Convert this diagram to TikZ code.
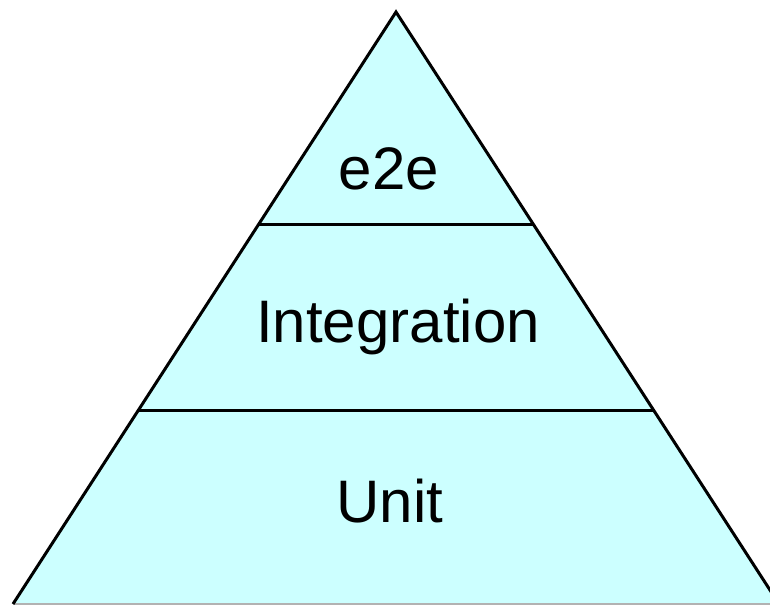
\documentclass[tikz,border=0pt]{standalone}
\usepackage{fontspec}
\setmainfont{Liberation Sans}
\usetikzlibrary{calc}
\definecolor{pyrfill}{RGB}{204,255,255}
\begin{document}
\begin{tikzpicture}[x=1pt,y=1pt,
  edge/.style={draw=black,line width=3pt,line join=miter},
  lbl/.style={font=\fontsize{60}{62}\selectfont,text=black,inner sep=0pt,anchor=base}]
\useasboundingbox (0,0) rectangle (770,605);
\clip (0,0) rectangle (770,605);
\coordinate (apex) at (396,593);
\coordinate (bl) at (13,1);
\coordinate (br) at (779,1);
\fill[pyrfill] (apex) -- (bl) -- (br) -- cycle;
\draw[gray!60,line width=1.5pt] (bl) -- (br);
\coordinate (d1l) at ($(apex)!0.3590!(bl)$);
\coordinate (d1r) at ($(apex)!0.3590!(br)$);
\coordinate (d2l) at ($(apex)!0.6723!(bl)$);
\coordinate (d2r) at ($(apex)!0.6723!(br)$);
\draw[edge] (d1l) -- (d1r);
\draw[edge] (d2l) -- (d2r);
\draw[edge] (bl) -- (apex) -- (br);
\node[lbl] (e2e) at (389,415) {e2e};
\node[lbl] (integ) at (398,262) {Integration};
\node[lbl] (unit) at (390,83) {Unit};
\end{tikzpicture}
\end{document}
